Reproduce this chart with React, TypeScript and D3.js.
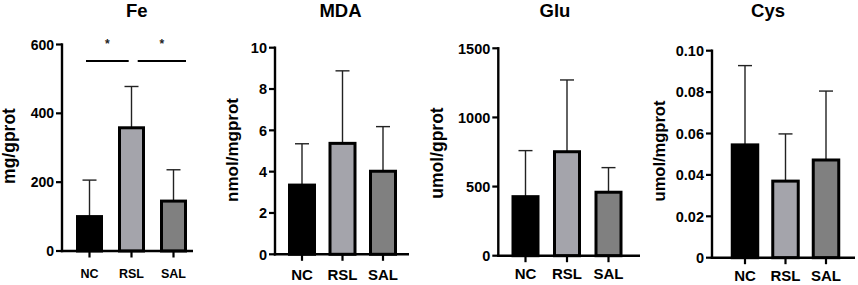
import React, { useEffect } from "react";
import * as d3 from "d3";

const categories = ["NC", "RSL", "SAL"];

const feMean = [100, 358, 145];
const feSD = [106, 120, 91];
const mdaMean = [3.35, 5.37, 4.02];
const mdaSD = [2.0, 3.51, 2.16];
const gluMean = [427, 752, 459];
const gluSD = [333, 519, 178];
const cysMean = [0.0545, 0.037, 0.0472];
const cysSD = [0.0383, 0.0228, 0.0333];

const feTicks = [0, 200, 400, 600];
const mdaTicks = [0, 2, 4, 6, 8, 10];
const gluTicks = [0, 500, 1000, 1500];
const cysTicks = [0, 0.02, 0.04, 0.06, 0.08, 0.1];

const titles = ["Fe", "MDA", "Glu", "Cys"];
const units = ["mg/gprot", "nmol/mgprot", "umol/gprot", "umol/mgprot"];

const fills = ["#000000", "#a4a4ab", "#808080"];
const FONT = "'Liberation Sans', Arial, Helvetica, sans-serif";

type Panel = {
  title: string;
  unit: string;
  mean: number[];
  sd: number[];
  ticks: number[];
  fmt: (v: number) => string;
  axisX: number;
  xEnd: number;
  y0: number;
  yTop: number;
  first: number;
  last: number;
  barW: number;
  tickFont: number;
  catFont: number;
  catBase: number;
  labelX: number;
  labelY: number;
  labelFont: number;
  titleX: number;
};

const fmtInt = (v: number) => String(v);
const fmtCys = (v: number) => (v === 0 ? "0" : d3.format(".2f")(v));

const panels: Panel[] = [
  {
    title: titles[0], unit: units[0], mean: feMean, sd: feSD, ticks: feTicks, fmt: fmtInt,
    axisX: 62, xEnd: 193, y0: 251, yTop: 44.5, first: 89.5, last: 173.5, barW: 24,
    tickFont: 14, catFont: 12.5, catBase: 277.5, labelX: 15, labelY: 146, labelFont: 17.5, titleX: 136.7,
  },
  {
    title: titles[1], unit: units[1], mean: mdaMean, sd: mdaSD, ticks: mdaTicks, fmt: fmtInt,
    axisX: 275, xEnd: 409, y0: 254.3, yTop: 47.7, first: 302, last: 383, barW: 25,
    tickFont: 14.5, catFont: 15, catBase: 279.5, labelX: 238, labelY: 150, labelFont: 17, titleX: 340.5,
  },
  {
    title: titles[2], unit: units[2], mean: gluMean, sd: gluSD, ticks: gluTicks, fmt: fmtInt,
    axisX: 498.3, xEnd: 640, y0: 255.7, yTop: 48.3, first: 525.5, last: 608.5, barW: 25,
    tickFont: 14.5, catFont: 15, catBase: 279, labelX: 443, labelY: 153, labelFont: 17.5, titleX: 555,
  },
  {
    title: titles[3], unit: units[3], mean: cysMean, sd: cysSD, ticks: cysTicks, fmt: fmtCys,
    axisX: 712, xEnd: 855, y0: 257.7, yTop: 50.7, first: 745, last: 826, barW: 25.5,
    tickFont: 14.5, catFont: 15, catBase: 281, labelX: 664.5, labelY: 151, labelFont: 16.5, titleX: 768,
  },
];

function PanelView({ p }: { p: Panel }) {
  const y = d3.scaleLinear().domain([0, p.ticks[p.ticks.length - 1]]).range([p.y0, p.yTop]);
  const x = d3.scalePoint<string>().domain(categories).range([p.first, p.last]);
  const capW = 14;
  return (
    <g fontFamily={FONT} fontWeight="bold">
      <text x={p.titleX} y={16.8} textAnchor="middle" fontSize={18.5} fill="#000">
        {p.title}
      </text>
      <text
        transform={`translate(${p.labelX},${p.labelY}) rotate(-90)`}
        textAnchor="middle"
        fontSize={p.labelFont}
        fill="#000"
      >
        {p.unit}
      </text>
      {categories.map((c, i) => {
        const cx = x(c)!;
        const top = y(p.mean[i] + p.sd[i]);
        return (
          <g key={"e" + c} stroke="#222" strokeWidth={1.4}>
            <line x1={cx} x2={cx} y1={y(p.mean[i])} y2={top} />
            <line x1={cx - capW / 2} x2={cx + capW / 2} y1={top} y2={top} />
          </g>
        );
      })}
      {categories.map((c, i) => {
        const cx = x(c)!;
        return (
          <rect
            key={"b" + c}
            x={cx - p.barW / 2}
            y={y(p.mean[i])}
            width={p.barW}
            height={p.y0 - y(p.mean[i])}
            fill={fills[i]}
            stroke="#000"
            strokeWidth={3}
          />
        );
      })}
      <line x1={p.axisX} x2={p.axisX} y1={p.y0 + 1.2} y2={p.yTop - 1.2} stroke="#000" strokeWidth={2.4} />
      {p.ticks.map((t) => (
        <g key={"t" + t}>
          <line x1={p.axisX - 6} x2={p.axisX} y1={y(t)} y2={y(t)} stroke="#000" strokeWidth={2.2} />
          <text
            x={p.axisX - 8}
            y={y(t)}
            dy="0.36em"
            textAnchor="end"
            fontSize={p.tickFont}
            fill="#000"
          >
            {p.fmt(t)}
          </text>
        </g>
      ))}
      <line x1={p.axisX - 1.2} x2={p.xEnd} y1={p.y0} y2={p.y0} stroke="#000" strokeWidth={2.4} />
      {categories.map((c) => (
        <g key={"x" + c}>
          <line x1={x(c)!} x2={x(c)!} y1={p.y0} y2={p.y0 + 6.5} stroke="#000" strokeWidth={2.2} />
          <text x={x(c)!} y={p.catBase} textAnchor="middle" fontSize={p.catFont} fill="#000">
            {c}
          </text>
        </g>
      ))}
    </g>
  );
}

const sigPairs: [string, string][] = [
  ["NC", "RSL"],
  ["RSL", "SAL"],
];

export default function App() {
  useEffect(() => {
    document.body.style.margin = "0";
  }, []);
  const fe = panels[0];
  const feY = d3.scaleLinear().domain([0, 600]).range([fe.y0, fe.yTop]);
  const sigY = feY(552);
  const sigSegs = [
    [86, 128.7],
    [137.7, 186],
  ];
  return (
    <svg width={858} height={285} style={{ display: "block", background: "#fff" }}>
      <rect width={858} height={285} fill="#fff" />
      {panels.map((p) => (
        <PanelView key={p.title} p={p} />
      ))}
      {sigPairs.map((pair, i) => (
        <g key={pair.join("-")}>
          <line x1={sigSegs[i][0]} x2={sigSegs[i][1]} y1={sigY} y2={sigY} stroke="#000" strokeWidth={2} />
          <text
            x={(sigSegs[i][0] + sigSegs[i][1]) / 2}
            y={sigY - 13}
            textAnchor="middle"
            fontSize={12}
            fontFamily={FONT}
            fontWeight="bold"
            fill="#222"
          >
            *
          </text>
        </g>
      ))}
    </svg>
  );
}
